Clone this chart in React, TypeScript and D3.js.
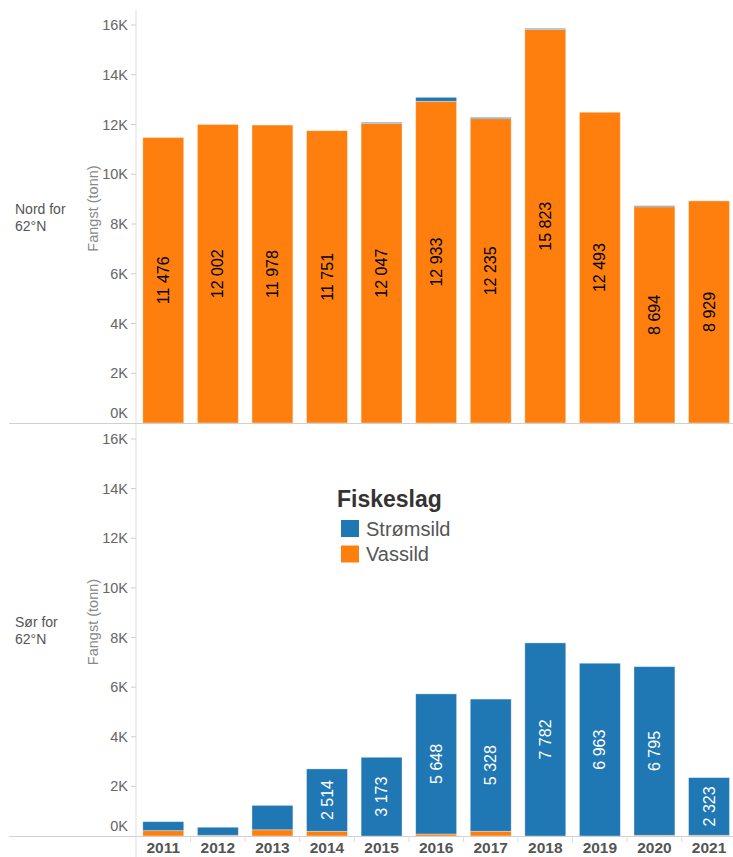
import React from "react";
import * as d3 from "d3";

const years = ["2011", "2012", "2013", "2014", "2015", "2016", "2017", "2018", "2019", "2020", "2021"];
const nordVassild = [11476, 12002, 11978, 11751, 12047, 12933, 12235, 15823, 12493, 8694, 8929];
const nordStromsild = [0, 0, 0, 0, 40, 160, 50, 40, 0, 40, 0];
const sorVassild = [215, 30, 250, 190, 0, 80, 190, 0, 0, 30, 30];
const sorStromsild = [363, 323, 984, 2514, 3173, 5648, 5328, 7782, 6963, 6795, 2323];
const yTicks = [0, 2000, 4000, 6000, 8000, 10000, 12000, 14000, 16000];
const seriesNames = ["Strømsild", "Vassild"];
const rowLabels = [["Nord for", "62°N"], ["Sør for", "62°N"]];

const BLUE = "#1f77b4";
const ORANGE = "#ff7f0e";
const FONT = "'Liberation Sans', Arial, sans-serif";

const fmt = (v: number) => d3.format(",")(v).replace(/,/g, " ");

const x = d3.scaleBand<string>().domain(years).range([136, 736.3]).paddingInner(0.25).paddingOuter(0.125);

type Panel = {
  vassild: number[];
  strom: number[];
  y: d3.ScaleLinear<number, number>;
  top: number;
  bottom: number;
  labelSeries: "vassild" | "strom";
  labelColor: string;
  rows: string[];
};

const panels: Panel[] = [
  {
    vassild: nordVassild,
    strom: nordStromsild,
    y: d3.scaleLinear().domain([0, 16000]).range([423, 25]),
    top: 10,
    bottom: 423,
    labelSeries: "vassild",
    labelColor: "#000",
    rows: rowLabels[0],
  },
  {
    vassild: sorVassild,
    strom: sorStromsild,
    y: d3.scaleLinear().domain([0, 16000]).range([836, 439]),
    top: 424,
    bottom: 836,
    labelSeries: "strom",
    labelColor: "#fff",
    rows: rowLabels[1],
  },
];

function PanelView({ p }: { p: Panel }) {
  const { y } = p;
  const mid = (p.top + p.bottom) / 2;
  return (
    <g>
      <text x={15} y={mid - 8} fontSize={14} fill="#555" fontFamily={FONT} dominantBaseline="central">
        {p.rows[0]}
      </text>
      <text x={15} y={mid + 9} fontSize={14} fill="#555" fontFamily={FONT} dominantBaseline="central">
        {p.rows[1]}
      </text>
      <text
        transform={`translate(93,${mid - 8}) rotate(-90)`}
        textAnchor="middle"
        dominantBaseline="central"
        fontSize={14.5}
        fill="#888"
        fontFamily={FONT}
      >
        Fangst (tonn)
      </text>
      {yTicks.map((t) => (
        <g key={t}>
          {t > 0 && <line x1={131} x2={136} y1={y(t)} y2={y(t)} stroke="#ccc" />}
          <text
            x={128}
            y={t === 0 ? y(t) - 10 : y(t)}
            textAnchor="end"
            dominantBaseline="central"
            fontSize={14.5}
            fill="#666"
            fontFamily={FONT}
          >
            {`${t / 1000}K`}
          </text>
        </g>
      ))}
      {years.map((yr, i) => {
        const v = p.vassild[i];
        const s = p.strom[i];
        const x0 = x(yr)!;
        const w = x.bandwidth();
        const yV = y(v);
        const yS = y(v + s);
        const lv = p.labelSeries === "vassild" ? v : s;
        const ly = p.labelSeries === "vassild" ? (y(0) + yV) / 2 : (yV + yS) / 2;
        const show = lv >= 2000;
        return (
          <g key={yr}>
            {v > 0 && (
              <rect x={x0} y={yV} width={w} height={y(0) - yV} fill={ORANGE} stroke="rgba(255,255,255,0.45)" strokeWidth={0.8} />
            )}
            {s > 0 && (
              <rect x={x0} y={yS} width={w} height={yV - yS} fill={BLUE} stroke="rgba(255,255,255,0.45)" strokeWidth={0.8} />
            )}
            {show && (
              <text
                transform={`translate(${x0 + w / 2},${ly}) rotate(-90)`}
                textAnchor="middle"
                dominantBaseline="central"
                fontSize={16}
                fill={p.labelColor}
                fontFamily={FONT}
              >
                {fmt(lv)}
              </text>
            )}
          </g>
        );
      })}
      <line x1={136} x2={136} y1={p.top} y2={p.bottom} stroke="#ddd" />
    </g>
  );
}

export default function App() {
  const lastBottom = 836;
  return (
    <svg width={733} height={857} style={{ position: "absolute", left: 0, top: 0, background: "#fff" }}>
      <rect x={0} y={0} width={733} height={857} fill="#fff" />
      {panels.map((p, i) => (
        <PanelView key={i} p={p} />
      ))}
      <line x1={9} x2={733} y1={423.5} y2={423.5} stroke="#d0d0d0" />
      <line x1={9} x2={733} y1={lastBottom + 0.5} y2={lastBottom + 0.5} stroke="#d0d0d0" />
      <line x1={136} x2={136} y1={836} y2={857} stroke="#ddd" />
      {years.map((yr, i) => {
        const cx = x(yr)! + x.bandwidth() / 2;
        const sep = x(yr)! + x.bandwidth() + (x.step() - x.bandwidth()) / 2;
        return (
          <g key={yr}>
            {i < years.length - 1 && <line x1={sep} x2={sep} y1={836} y2={842} stroke="#ddd" />}
            <text x={cx} y={853} textAnchor="middle" fontSize={15.5} fontWeight="bold" fill="#555" fontFamily={FONT}>
              {yr}
            </text>
          </g>
        );
      })}
      <text x={337} y={507} fontSize={23} fontWeight="bold" fill="#333" fontFamily={FONT}>
        Fiskeslag
      </text>
      {seriesNames.map((n, i) => (
        <g key={n}>
          <rect x={341} y={520 + i * 25.5} width={18} height={17} fill={i === 0 ? BLUE : ORANGE} />
          <text x={366} y={536 + i * 25} fontSize={20} fill="#555" fontFamily={FONT}>
            {n}
          </text>
        </g>
      ))}
    </svg>
  );
}
